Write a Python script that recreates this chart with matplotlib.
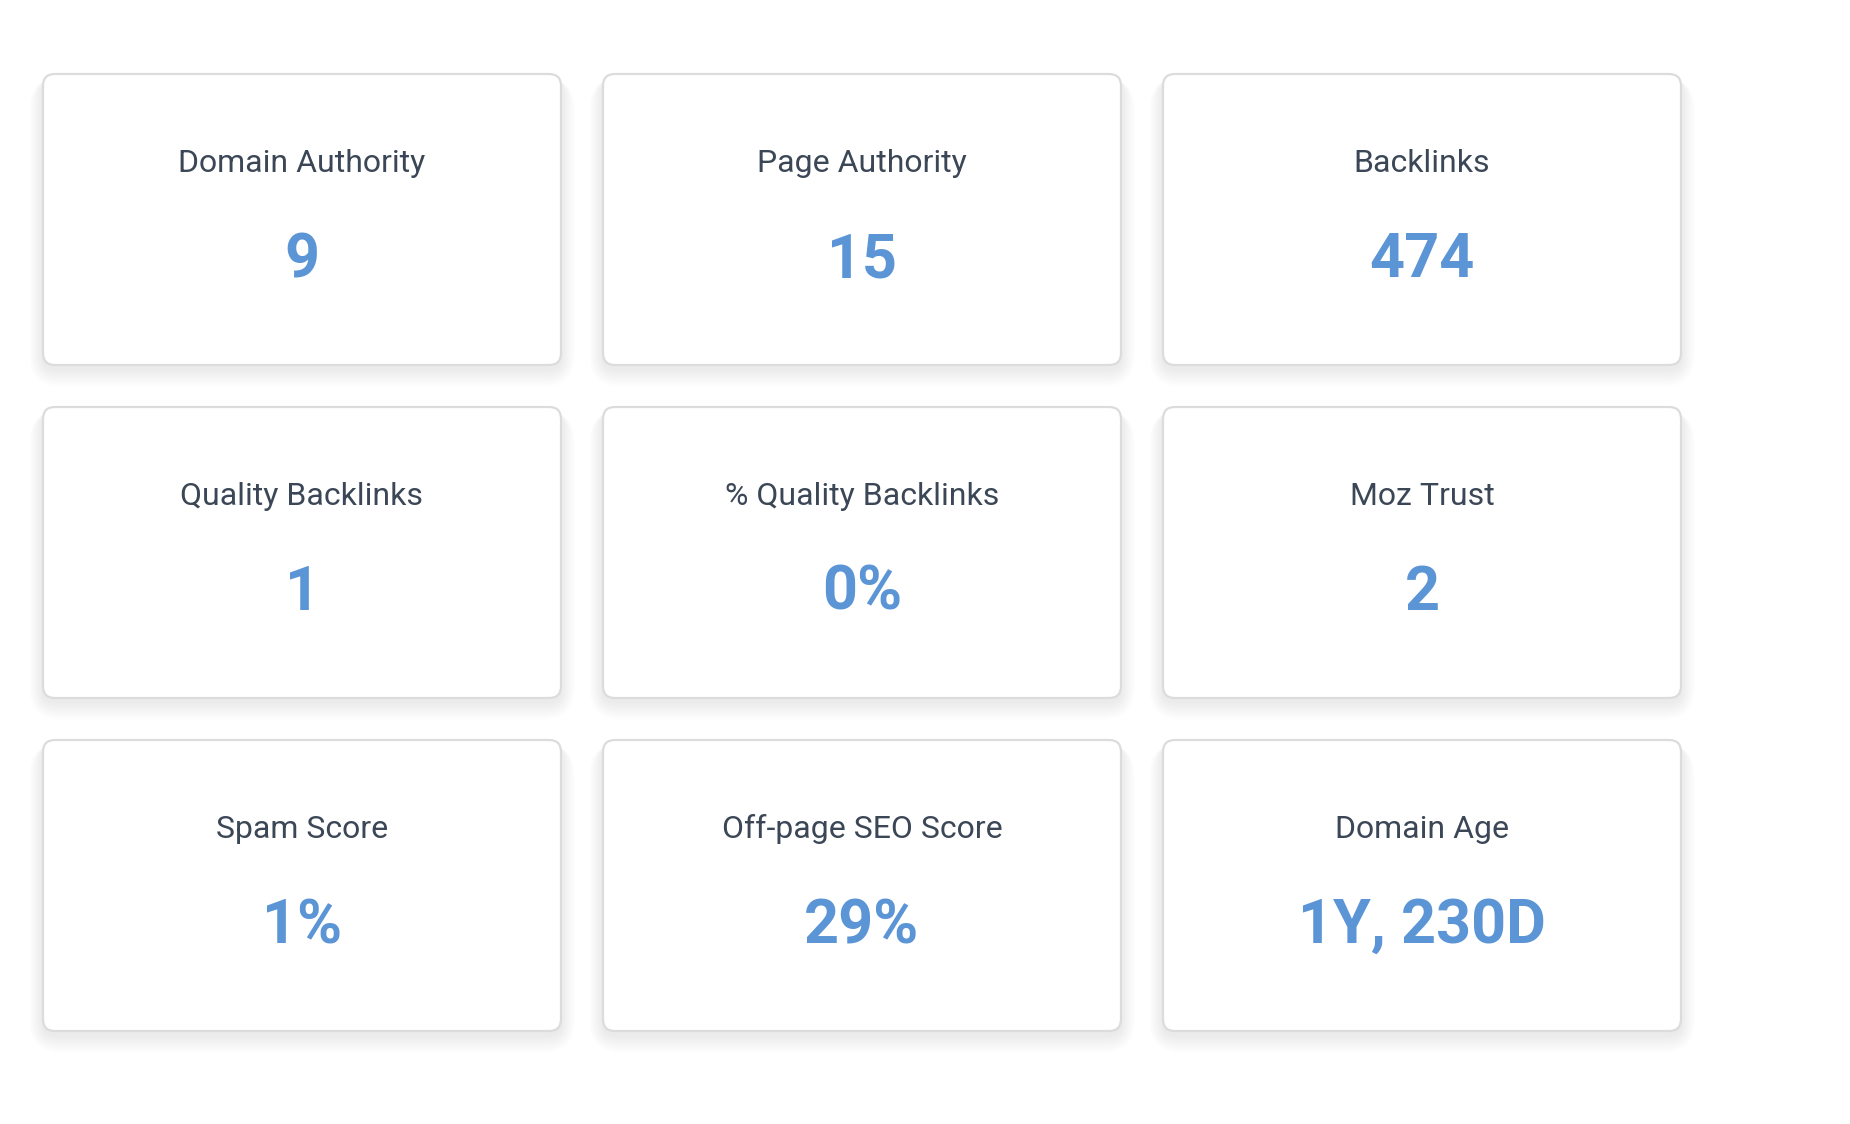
import matplotlib
matplotlib.use("Agg")
import matplotlib.pyplot as plt
import matplotlib.patches as patches

# card contents, row by row
labels = [
    "Domain Authority", "Page Authority", "Backlinks",
    "Quality Backlinks", "% Quality Backlinks", "Moz Trust",
    "Spam Score", "Off-page SEO Score", "Domain Age",
]
values = ["9", "15", "474", "1", "0%", "2", "1%", "29%", "1Y, 230D"]

W, H = 1850, 1124
N_COLS = 3
CARD_W, CARD_H = 518, 291
X0, Y0 = 43, 74
GAP = 42
RADIUS = 12

LABEL_COLOR = "#3b4756"
VALUE_COLOR = "#5b95d5"
BORDER_COLOR = "#dcdcdc"

plt.rcParams["font.family"] = ["Roboto", "DejaVu Sans"]

fig = plt.figure(figsize=(W / 100, H / 100), dpi=100)
ax = fig.add_axes([0, 0, 1, 1])
ax.set_xlim(0, W)
ax.set_ylim(H, 0)
ax.axis("off")


def draw_card(x, y, label, value):
    # soft shadow, mostly below the card (stacked faint layers)
    n = 20
    for i in range(n):
        grow = n - i
        shadow = patches.FancyBboxPatch(
            (x - grow * 0.7, y + 4),
            CARD_W + grow * 1.4, CARD_H + grow * 0.9,
            boxstyle=f"round,pad=0,rounding_size={RADIUS + grow}",
            facecolor="black", edgecolor="none", alpha=0.0045, zorder=1,
        )
        ax.add_patch(shadow)

    card = patches.FancyBboxPatch(
        (x, y), CARD_W, CARD_H,
        boxstyle=f"round,pad=0,rounding_size={RADIUS}",
        facecolor="white", edgecolor=BORDER_COLOR, linewidth=1.6, zorder=2,
    )
    ax.add_patch(card)

    cx = x + CARD_W / 2
    ax.text(cx, y + 98, label, ha="center", va="baseline",
            fontsize=23, color=LABEL_COLOR, zorder=3)
    ax.text(cx, y + 203, value, ha="center", va="baseline",
            fontsize=44, fontweight="bold", color=VALUE_COLOR, zorder=3)


for i, (label, value) in enumerate(zip(labels, values)):
    row, col = divmod(i, N_COLS)
    x = X0 + col * (CARD_W + GAP)
    y = Y0 + row * (CARD_H + GAP)
    draw_card(x, y, label, value)

fig.savefig("out.png", dpi=100, facecolor="white")
